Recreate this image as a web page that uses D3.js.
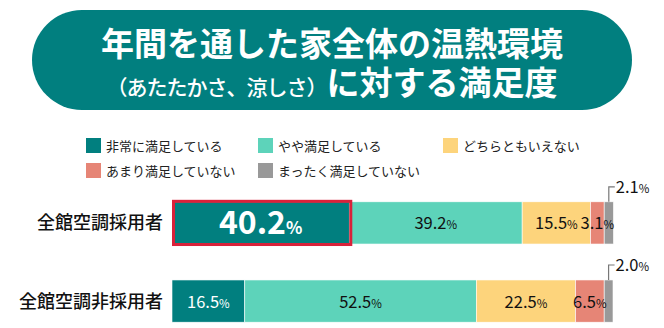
<!DOCTYPE html>
<html><head><meta charset="utf-8">
<script src="https://cdn.jsdelivr.net/npm/d3@7"></script>
<style>body{margin:0;background:#fff}svg{display:block}text{font-family:"Noto Sans CJK JP","Noto Sans",sans-serif}</style>
</head><body><svg id="c" width="664" height="328"></svg>
<script>
const titleLine1 = "年間を通した家全体の温熱環境";
const titleLine2a = "（あたたかさ、涼しさ）";
const titleLine2b = "に対する満足度";
const categories = ["全館空調採用者", "全館空調非採用者"];
const seriesNames = ["非常に満足している", "やや満足している", "どちらともいえない", "あまり満足していない", "まったく満足していない"];
const adopters = [40.2, 39.2, 15.5, 3.1, 2.1];
const nonAdopters = [16.5, 52.5, 22.5, 6.5, 2.0];
const colors = ["#017f7f", "#5dd3ba", "#fdd47c", "#e68576", "#999999"];
const rows = [adopters, nonAdopters];

const svg = d3.select("#c");
// banner
svg.append("rect").attr("x", 32).attr("y", 10).attr("width", 600).attr("height", 100)
  .attr("rx", 50).attr("fill", "#017f7f");
svg.append("text").attr("x", 332).attr("y", 56).attr("text-anchor", "middle")
  .attr("fill", "#fff").attr("font-size", 33).attr("font-weight", 700).text(titleLine1);
const t2 = svg.append("text").attr("x", 332).attr("y", 95).attr("text-anchor", "middle")
  .attr("fill", "#fff").attr("font-weight", 700);
t2.append("tspan").attr("font-size", 21).attr("font-weight", 500).attr("letter-spacing", -1).text(titleLine2a);
t2.append("tspan").attr("font-size", 33).text(titleLine2b);

// legend
const legPos = [[86, 138], [258, 138], [443, 138], [86, 163], [258, 163]];
const leg = svg.append("g").selectAll("g").data(seriesNames).join("g")
  .attr("transform", (d, i) => `translate(${legPos[i][0]},${legPos[i][1]})`);
leg.append("rect").attr("width", 15).attr("height", 15).attr("fill", (d, i) => colors[i]);
leg.append("text").attr("x", 20).attr("y", 12.5).attr("font-size", 13).attr("fill", "#222").text(d => d);

// scales
const x = d3.scaleLinear().domain([0, 100]).range([172, 613]);
const y = d3.scaleBand().domain(categories).range([194, 330]).paddingInner(0.46).paddingOuter(0.1);

svg.append("g").selectAll("text").data(categories).join("text")
  .attr("x", 163).attr("y", d => y(d) + y.bandwidth() / 2 + 6.5)
  .attr("text-anchor", "end").attr("font-size", 18).attr("font-weight", 500).attr("fill", "#111")
  .text(d => d);

rows.forEach((vals, r) => {
  const cat = categories[r];
  let cum = 0;
  const segs = vals.map((v, i) => { const s = { v, i, x0: cum, x1: cum + v }; cum += v; return s; });
  const g = svg.append("g");
  g.selectAll("rect").data(segs).join("rect")
    .attr("x", d => x(d.x0)).attr("width", d => x(d.x1) - x(d.x0))
    .attr("y", y(cat)).attr("height", y.bandwidth())
    .attr("fill", d => colors[d.i]).attr("stroke", "#fff").attr("stroke-width", 0.6);
  segs.forEach(d => {
    const cy = y(cat) + y.bandwidth() / 2;
    if (d.i === 4) {
      const lx = (x(d.x0) + x(d.x1)) / 2;
      const top = y(cat) - 15;
      g.append("path").attr("d", `M${lx},${y(cat)}V${top}H${lx + 6}`)
        .attr("fill", "none").attr("stroke", "#777").attr("stroke-width", 1.2);
      const t = g.append("text").attr("x", lx + 7).attr("y", top + 6).attr("fill", "#111");
      t.append("tspan").attr("font-size", 16.5).text(d.v.toFixed(1));
      t.append("tspan").attr("font-size", 11.5).text("%");
      return;
    }
    const big = r === 0 && d.i === 0;
    const t = g.append("text").attr("x", (x(d.x0) + x(d.x1)) / 2).attr("y", cy + (big ? 11 : 6.5))
      .attr("text-anchor", "middle").attr("fill", d.i === 0 ? "#fff" : "#111");
    t.append("tspan").attr("font-size", big ? 32 : 16.5).attr("font-weight", big ? 700 : 400).text(d.v.toFixed(1));
    t.append("tspan").attr("font-size", big ? 17 : 11.5).attr("font-weight", big ? 700 : 400).text("%");
  });
  if (r === 0) {
    svg.append("rect").attr("x", x(0) + 1.5).attr("y", y(cat) - 0.5)
      .attr("width", x(vals[0]) - x(0)).attr("height", y.bandwidth() + 1)
      .attr("fill", "none").attr("stroke", "#d9213a").attr("stroke-width", 3);
  }
});
</script></body></html>
